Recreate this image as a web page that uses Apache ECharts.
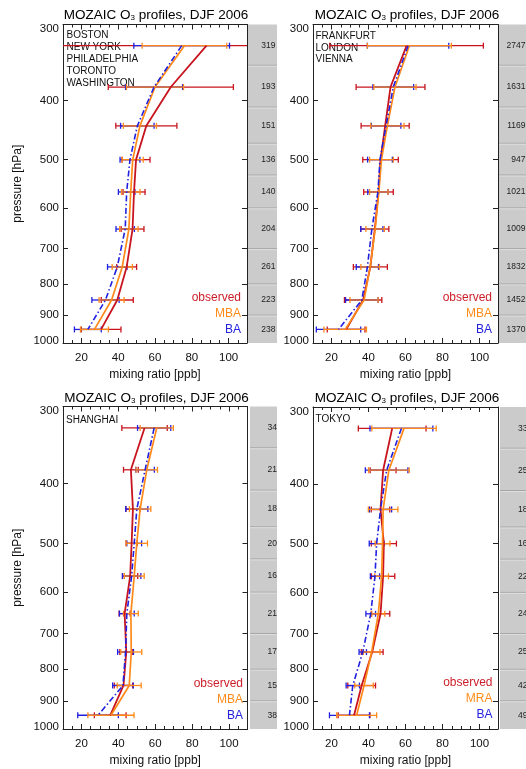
<!DOCTYPE html>
<html><head><meta charset="utf-8">
<script src="https://cdn.jsdelivr.net/npm/echarts@6/dist/echarts.min.js"></script>
<style>html,body{margin:0;padding:0;background:#fff}#c{width:526px;height:769px}</style>
</head><body><div id="c"></div>
<script>
// ---------- data ----------
const levels   = [325, 380, 440, 500, 565, 650, 750, 850, 950];
const binEdges = [300, 350, 410, 470, 530, 600, 700, 800, 900, 1000];
const yTicks   = [300, 400, 500, 600, 700, 800, 900, 1000];
const xMajor   = [20, 40, 60, 80, 100];
const xMinor   = [10,15,20,25,30,35,40,45,50,55,60,65,70,75,80,85,90,95,100,105,110];
const xName = 'mixing ratio [ppb]';
const yName = 'pressure [hPa]';
const titleText = 'MOZAIC O{s|3} profiles, DJF 2006';

// North America
const usObsMean = [88, 68.6, 55.3, 49.7, 48.6, 47.8, 44.6, 39.5, 30.7];
const usObsSd   = [80, 34, 16.6, 7.6, 6, 6.2, 5.4, 8.7, 10.8];
const usMbaMean = [76, 60, 51.8, 47.9, 46.8, 45.8, 42.2, 36.4, 27.1];
const usMbaSd   = [23, 15.5, 9, 5.7, 5, 5, 5.5, 6.8, 7.6];
const usBaMean  = [74.5, 59.5, 50.4, 46.4, 44.6, 43.8, 39.5, 33.1, 23.5];
const usBaSd    = [26, 15.5, 9.1, 5.4, 4.5, 5, 5.3, 7.4, 7.3];
const usCounts  = ['319','193','151','136','140','204','261','223','238'];
const usCities  = ['BOSTON','NEW YORK','PHILADELPHIA','TORONTO','WASHINGTON'];

// Europe
const euObsMean = [60.6, 51.9, 49, 46.5, 45.4, 43.4, 41, 37.1, 27.9];
const euObsSd   = [41.5, 18.6, 13, 9.6, 8, 7.6, 9.2, 10.1, 10.2];
const euMbaMean = [62.1, 54.3, 50.2, 47, 45.6, 43.6, 40.9, 37.6, 27.4];
const euMbaSd   = [22.7, 11.4, 9, 6.4, 5, 5, 5, 7.6, 11.5];
const euBaMean  = [61.4, 53.4, 49.5, 46.2, 45.1, 41.8, 39.4, 36.4, 23.8];
const euBaSd    = [22, 11, 8, 6.7, 5.5, 6, 6, 8.8, 12];
const euCounts  = ['2747','1631','1169','947','1021','1009','1832','1452','1370'];
const euCities  = ['FRANKFURT','LONDON','VIENNA'];

// Shanghai
const shObsMean = [54.2, 46.8, 47.9, 47.2, 46.4, 43.4, 44.3, 42.8, 35.6];
const shObsSd   = [12.3, 4, 3.8, 3, 4.1, 3, 3.5, 5, 8.6];
const shMbaMean = [60.8, 55.4, 51.8, 50, 48.6, 46.8, 47, 45.9, 36];
const shMbaSd   = [9, 5.8, 5.8, 5.8, 5.4, 4, 5.7, 6.5, 12.5];
const shBaMean  = [59.4, 54.5, 50, 48.6, 47.2, 44.6, 43.9, 42.5, 29];
const shBaSd    = [9, 5, 6, 4, 5, 4, 4.3, 5.6, 11];
const shCounts  = ['34','21','18','20','16','21','17','15','38'];
const shCities  = ['SHANGHAI'];

// Tokyo
const tyObsMean = [52.8, 47.9, 46.5, 48.3, 47.9, 46.5, 42, 36.3, 32.2];
const tyObsSd   = [18.3, 7, 5, 6.8, 6.3, 5, 5.9, 7.5, 8.6];
const tyMbaMean = [59.2, 51, 47.9, 47.6, 47.1, 45.3, 41.7, 37.6, 33.6];
const tyMbaSd   = [17.4, 11, 8, 4, 3.7, 3.5, 4.5, 5, 10.8];
const tyBaMean  = [57.8, 49.8, 46.5, 44.4, 43.5, 41.2, 36.9, 31.5, 29.7];
const tyBaSd    = [17, 11.5, 6, 4, 2.5, 2.6, 2, 3.6, 10.8];
const tyCounts  = ['33','25','18','16','22','24','25','42','49'];
const tyCities  = ['TOKYO'];

const legendA  = ['observed','MBA','BA'];
const legendB  = ['observed','MRA','BA'];

// ---------- style / layout ----------
const FONT = '"Liberation Sans", Arial, Helvetica, sans-serif';
const C_OBS = '#c8141e', C_MBA = '#ff8a1a', C_BA = '#2020e0';
const LEG_COLORS = ['#cc1f2a', '#ff8c1a', '#2222dd'];

const panels = [
  {obs:[usObsMean,usObsSd], mba:[usMbaMean,usMbaSd], ba:[usBaMean,usBaSd], counts:usCounts, cities:usCities, legend:legendA,
   L:{left:63, top:24.5, width:184, height:318.5, gLeft:248, gWidth:29, numX:275.5, numAlign:'right', tx:156, ty:15, yName:true, cx:66.5, cy:35.7, lx:241, ly:298}},
  {obs:[euObsMean,euObsSd], mba:[euMbaMean,euMbaSd], ba:[euBaMean,euBaSd], counts:euCounts, cities:euCities, legend:legendA,
   L:{left:313, top:24.5, width:185, height:318.5, gLeft:499, gWidth:30, numX:525.5, numAlign:'right', tx:407, ty:15, yName:false, cx:315.5, cy:36, lx:492, ly:298}},
  {obs:[shObsMean,shObsSd], mba:[shMbaMean,shMbaSd], ba:[shBaMean,shBaSd], counts:shCounts, cities:shCities, legend:legendA,
   L:{left:63, top:406.5, width:184.5, height:322.5, gLeft:250, gWidth:27, numX:277, numAlign:'right', tx:156.5, ty:398, yName:true, cx:66, cy:420, lx:243, ly:683.5}},
  {obs:[tyObsMean,tyObsSd], mba:[tyMbaMean,tyMbaSd], ba:[tyBaMean,tyBaSd], counts:tyCounts, cities:tyCities, legend:legendB,
   L:{left:313, top:407, width:185, height:322, gLeft:500, gWidth:30, numX:518, numAlign:'left', tx:407, ty:398, yName:false, cx:315.5, cy:419.5, lx:492.5, ly:683}}
];

function errRender(color) {
  return function (params, api) {
    const m = api.value(0), p = api.value(1), sd = api.value(2);
    const cs = params.coordSys;
    const a = api.coord([m - sd, p]), b = api.coord([m + sd, p]);
    const xl = Math.max(a[0], cs.x), xr = Math.min(b[0], cs.x + cs.width);
    const y = a[1];
    const st = {stroke: color, lineWidth: 1.3};
    const ch = [{type:'line', shape:{x1:xl, y1:y, x2:xr, y2:y}, style:st}];
    if (a[0] >= cs.x) ch.push({type:'line', shape:{x1:a[0], y1:y-3, x2:a[0], y2:y+3}, style:st});
    if (b[0] <= cs.x + cs.width) ch.push({type:'line', shape:{x1:b[0], y1:y-3, x2:b[0], y2:y+3}, style:st});
    return {type:'group', children: ch};
  };
}
function greyRender(counts, L) {
  return function (params, api) {
    const lo = api.value(0), hi = api.value(1), lev = api.value(2);
    const cs = params.coordSys;
    const p0 = api.coord([0, lo]), p1 = api.coord([1, hi]), pm = api.coord([0, lev]);
    const ch = [{type:'rect', shape:{x:cs.x, y:p0[1], width:cs.width, height:p1[1]-p0[1]}, style:{fill:'#cbcbcb'}}];
    if (params.dataIndex > 0) {
      ch.push({type:'line', shape:{x1:cs.x, y1:p0[1], x2:cs.x+cs.width, y2:p0[1]}, style:{stroke:'#a4a4a4', lineWidth:1}});
      ch.push({type:'line', shape:{x1:cs.x, y1:p0[1]+1, x2:cs.x+cs.width, y2:p0[1]+1}, style:{stroke:'#dedede', lineWidth:1}});
    }
    ch.push({type:'text', style:{text:counts[params.dataIndex], x:L.numX, y:pm[1], align:L.numAlign, verticalAlign:'middle',
      fontSize:8.5, fontFamily:FONT, fill:'#222'}});
    return {type:'group', children: ch};
  };
}

const grids = [], greyGrids = [], xAxes = [], greyX = [], yAxes = [], greyY = [], series = [], graphic = [];
const lineCol = '#222';
panels.forEach((P, i) => {
  const L = P.L;
  grids.push({left:L.left, top:L.top, width:L.width, height:L.height, containLabel:false});
  greyGrids.push({left:L.gLeft, top:L.top, width:L.gWidth, height:L.height});
  const xBase = {type:'value', gridIndex:i, min:10, max:110, splitLine:{show:false}};
  xAxes.push(Object.assign({}, xBase, {position:'bottom',
    axisLine:{show:true, onZero:false, lineStyle:{color:lineCol, width:1}},
    axisTick:{show:true, inside:true, length:5, customValues:xMajor, lineStyle:{color:lineCol}},
    axisLabel:{show:true, customValues:xMajor, margin:9, fontSize:11.5, fontFamily:FONT, color:'#111'},
    name:xName, nameLocation:'middle', nameGap:26, nameTextStyle:{fontSize:12, fontFamily:FONT, color:'#111'}}));
  xAxes.push(Object.assign({}, xBase, {position:'bottom',
    axisLine:{show:false, onZero:false},
    axisTick:{show:true, inside:true, length:3, customValues:xMinor, lineStyle:{color:lineCol}},
    axisLabel:{show:false}}));
  xAxes.push(Object.assign({}, xBase, {position:'top',
    axisLine:{show:true, onZero:false, lineStyle:{color:lineCol, width:1}},
    axisTick:{show:true, inside:true, length:5, customValues:xMajor, lineStyle:{color:lineCol}},
    axisLabel:{show:false}}));
  xAxes.push(Object.assign({}, xBase, {position:'top',
    axisLine:{show:false, onZero:false},
    axisTick:{show:true, inside:true, length:3, customValues:xMinor, lineStyle:{color:lineCol}},
    axisLabel:{show:false}}));
  const yBase = {type:'log', logBase:10, gridIndex:i, min:300, max:1000, inverse:true, splitLine:{show:false}};
  const rs = {fontSize:11.5, fontFamily:FONT, color:'#111'};
  yAxes.push(Object.assign({}, yBase, {position:'left',
    axisLine:{show:true, onZero:false, lineStyle:{color:lineCol, width:1}},
    axisTick:{show:true, inside:true, length:5, customValues:yTicks, lineStyle:{color:lineCol}},
    axisLabel:{show:true, customValues:yTicks, margin:4, fontSize:11.5, fontFamily:FONT, color:'#111',
      formatter: v => (v === yTicks[0] ? '{t|' + v + '}' : (v === yTicks[yTicks.length-1] ? '{b|' + v + '}' : String(v))),
      rich:{t:Object.assign({padding:[9,0,0,0]}, rs), b:Object.assign({padding:[0,0,5,0]}, rs)}},
    name: L.yName ? yName : '', nameLocation:'middle', nameGap:39, nameTextStyle:{fontSize:12, fontFamily:FONT, color:'#111'}}));
  yAxes.push(Object.assign({}, yBase, {position:'right',
    axisLine:{show:true, onZero:false, lineStyle:{color:lineCol, width:1}},
    axisTick:{show:true, inside:true, length:5, customValues:yTicks, lineStyle:{color:lineCol}},
    axisLabel:{show:false}}));
  greyX.push({type:'value', gridIndex:4+i, min:0, max:1, show:false});
  greyY.push({type:'log', logBase:10, gridIndex:4+i, min:300, max:1000, inverse:true, show:false});

  const xi = 4*i, yi = 2*i;
  const mk = arr => levels.map((p, k) => [arr[0][k], p, arr[1][k]]);
  [[P.obs, C_OBS], [P.ba, C_BA], [P.mba, C_MBA]].forEach(([arr, col]) => {
    series.push({type:'custom', xAxisIndex:xi, yAxisIndex:yi, renderItem:errRender(col),
      encode:{x:0, y:1}, data:mk(arr), z:2, silent:true});
  });
  [[P.obs, C_OBS, 'solid', 1.8], [P.mba, C_MBA, 'solid', 1.7], [P.ba, C_BA, [6,2.5,1.5,2.5], 1.6]].forEach(([arr, col, tp, w]) => {
    series.push({type:'line', xAxisIndex:xi, yAxisIndex:yi, symbol:'none', z:3, silent:true,
      lineStyle:{color:col, width:w, type:tp}, data:levels.map((p, k) => [arr[0][k], p])});
  });
  series.push({type:'custom', xAxisIndex:16+i, yAxisIndex:8+i, renderItem:greyRender(P.counts, L),
    encode:{y:[0,1]}, data:levels.map((p, k) => [binEdges[k], binEdges[k+1], p]), silent:true, clip:false});

  graphic.push({type:'text', x:L.tx, y:L.ty, silent:true, style:{text:titleText, align:'center', verticalAlign:'middle',
    fontSize:13.5, fontFamily:FONT, fill:'#000', rich:{s:{fontSize:8, verticalAlign:'bottom', fontFamily:FONT, fill:'#000'}}}});
  P.cities.forEach((c, k) => graphic.push({type:'text', x:L.cx, y:L.cy + 11.8*k, silent:true,
    style:{text:c, align:'left', verticalAlign:'middle', fontSize:10, fontFamily:FONT, fill:'#111'}}));
  P.legend.forEach((t, k) => graphic.push({type:'text', x:L.lx, y:L.ly + 16*k, silent:true,
    style:{text:t, align:'right', verticalAlign:'middle', fontSize:12, fontFamily:FONT, fill:LEG_COLORS[k]}}));
});

const chart = echarts.init(document.getElementById('c'), null, {renderer:'canvas'});
chart.setOption({
  animation:false, backgroundColor:'#fff',
  grid: grids.concat(greyGrids),
  xAxis: xAxes.concat(greyX),
  yAxis: yAxes.concat(greyY),
  series: series,
  graphic: graphic
});
</script></body></html>
